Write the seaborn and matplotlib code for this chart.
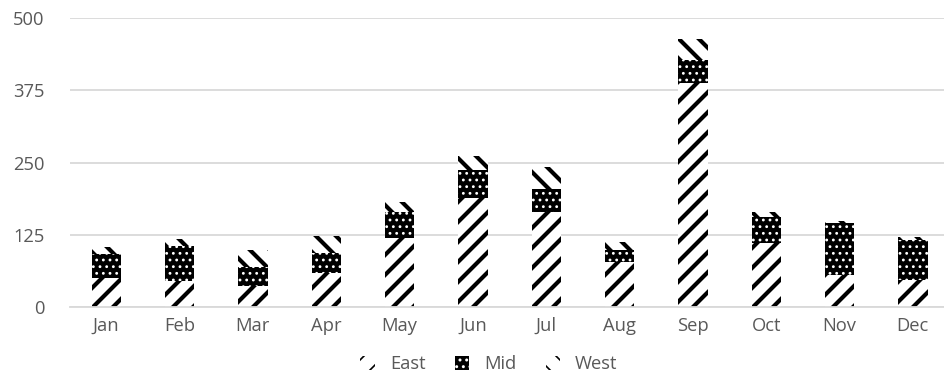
import matplotlib
matplotlib.use("Agg")
import matplotlib as mpl
import matplotlib.pyplot as plt
from matplotlib.patches import Patch
import pandas as pd
import seaborn as sns

# Monthly values per region
months = ["Jan", "Feb", "Mar", "Apr", "May", "Jun",
          "Jul", "Aug", "Sep", "Oct", "Nov", "Dec"]
east = [51, 45, 36, 59, 120, 188, 165, 78, 388, 110, 55, 46]
mid = [40, 60, 34, 35, 45, 49, 40, 20, 40, 46, 90, 70]
west = [12, 13, 29, 29, 17, 25, 37, 15, 36, 9, 3, 5]
yticks = [0, 125, 250, 375, 500]
series = ["East", "Mid", "West"]

df = pd.DataFrame({"month": months, "East": east, "Mid": mid, "West": west})
df["east_mid"] = df["East"] + df["Mid"]
df["total"] = df["east_mid"] + df["West"]

sns.set_theme(style="white")
plt.rcParams["font.family"] = ["Open Sans", "DejaVu Sans"]
TEXT = "#595959"
GRID = "#d9d9d9"

DPI = 120
fig = plt.figure(figsize=(944 / DPI, 376 / DPI), dpi=DPI)
ax = fig.add_axes([69.5 / 944, (376 - 307) / 376, 880 / 944, 289 / 376])

styles = {
    "West": dict(facecolor="white", edgecolor="black", hatch="\\\\", hlw=2.5),
    "Mid": dict(facecolor="black", edgecolor="white", hatch="...", hlw=0.9),
    "East": dict(facecolor="white", edgecolor="black", hatch="//", hlw=2.5),
}

# Stacked bars: draw cumulative heights back to front
for col, name in [("total", "West"), ("east_mid", "Mid"), ("East", "East")]:
    st = styles[name]
    n0 = len(ax.patches)
    with mpl.rc_context({"hatch.linewidth": st["hlw"]}):
        sns.barplot(data=df, x="month", y=col, order=months, errorbar=None,
                    width=0.4, saturation=1, color=st["facecolor"],
                    edgecolor=st["edgecolor"], linewidth=0, hatch=st["hatch"],
                    ax=ax)
    for p in ax.patches[n0:]:
        p.set_facecolor(st["facecolor"])
        if hasattr(p, "set_hatch_linewidth"):
            p.set_hatch_linewidth(st["hlw"])

ax.set_ylim(0, 500)
ax.set_xlim(-0.5, 11.5)
ax.set_yticks(yticks)
ax.set_yticklabels([str(v) for v in yticks])
ax.set_xlabel("")
ax.set_ylabel("")
ax.yaxis.grid(True, color=GRID, linewidth=1.1)
ax.set_axisbelow(True)
for s in ["top", "right", "left"]:
    ax.spines[s].set_visible(False)
ax.spines["bottom"].set_color(GRID)
ax.spines["bottom"].set_linewidth(1.1)
ax.tick_params(axis="y", length=0, pad=15, labelsize=11, labelcolor=TEXT)
ax.tick_params(axis="x", length=0, pad=6, labelsize=11, labelcolor=TEXT)

handles = []
for name in series:
    st = styles[name]
    h = Patch(facecolor=st["facecolor"], edgecolor=st["edgecolor"],
              hatch=st["hatch"], linewidth=0, label=name)
    if hasattr(h, "set_hatch_linewidth"):
        h.set_hatch_linewidth(st["hlw"])
    handles.append(h)
fig.legend(handles=handles, loc="center", bbox_to_anchor=(489 / 944, 12 / 376),
           ncol=3, frameon=False, fontsize=11, labelcolor=TEXT,
           handlelength=0.8, handleheight=0.8, handletextpad=0.8,
           columnspacing=1.6)

fig.savefig("out.png", dpi=DPI)
